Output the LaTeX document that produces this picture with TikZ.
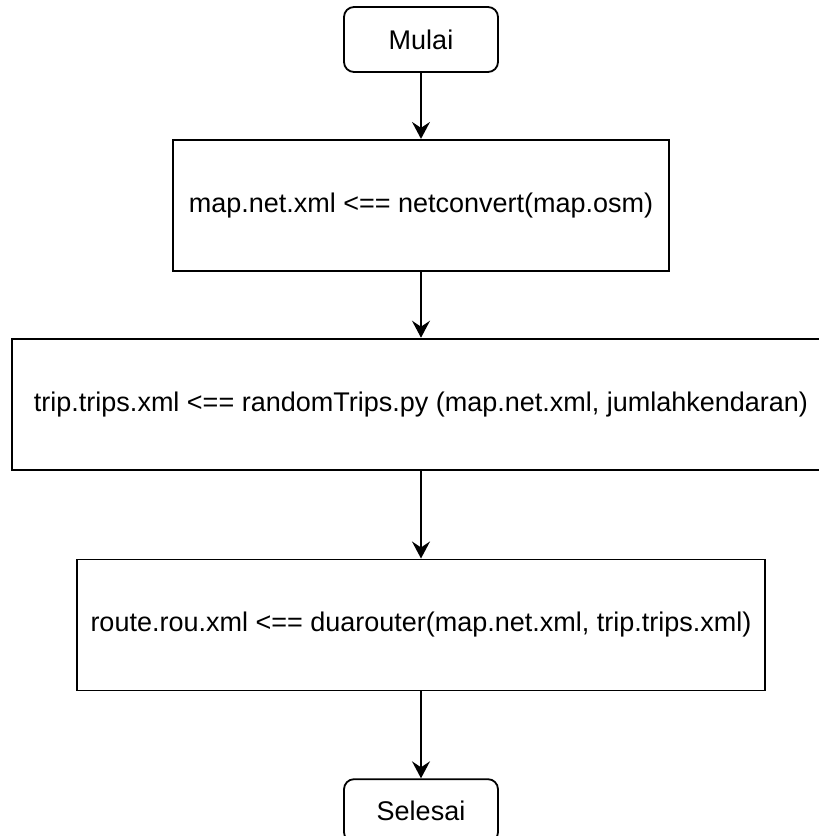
\documentclass[tikz,border=0pt]{standalone}
\usepackage{fontspec}
\setmainfont{Liberation Sans}
\usetikzlibrary{positioning, arrows.meta}
\tikzset{
	>={Stealth[length=8.5pt, width=9pt, inset=3pt]},
	node distance=33pt,
	every node/.style={font=\fontsize{13.5pt}{16pt}\selectfont},
	terminal/.style={draw, line width=0.9pt, rounded corners=5pt, minimum width=77pt, minimum height=32.5pt, inner sep=0pt},
	process/.style={draw, line width=0.9pt, minimum height=65.5pt, inner sep=0pt},
	flow/.style={->, line width=0.9pt},
}
\begin{document}
\begin{tikzpicture}
			\useasboundingbox (0,0) rectangle (409.5pt,-418pt);
			\node[terminal] (MULAI) at (210.5pt,-19.75pt) {Mulai};
			\node[process, minimum width=248pt, below=of MULAI] (NETCONVERT) {map.net.xml <== netconvert(map.osm)};
			\node[process, minimum width=409pt, below=of NETCONVERT] (RANDOMTRIPS) {trip.trips.xml <== randomTrips.py (map.net.xml, jumlahkendaran)};
			\node[process, minimum width=344pt, below=44pt of RANDOMTRIPS] (DUAROUTER) {route.rou.xml <== duarouter(map.net.xml, trip.trips.xml)};
			\node[terminal, minimum height=31.5pt, below=43.5pt of DUAROUTER] (SELESAI) {Selesai};
			
			\draw[flow] (MULAI) -- (NETCONVERT);
			\draw[flow] (NETCONVERT) -- (RANDOMTRIPS);
			\draw[flow] (RANDOMTRIPS) -- (DUAROUTER);
			\draw[flow] (DUAROUTER) -- (SELESAI);
		\end{tikzpicture}
\end{document}
